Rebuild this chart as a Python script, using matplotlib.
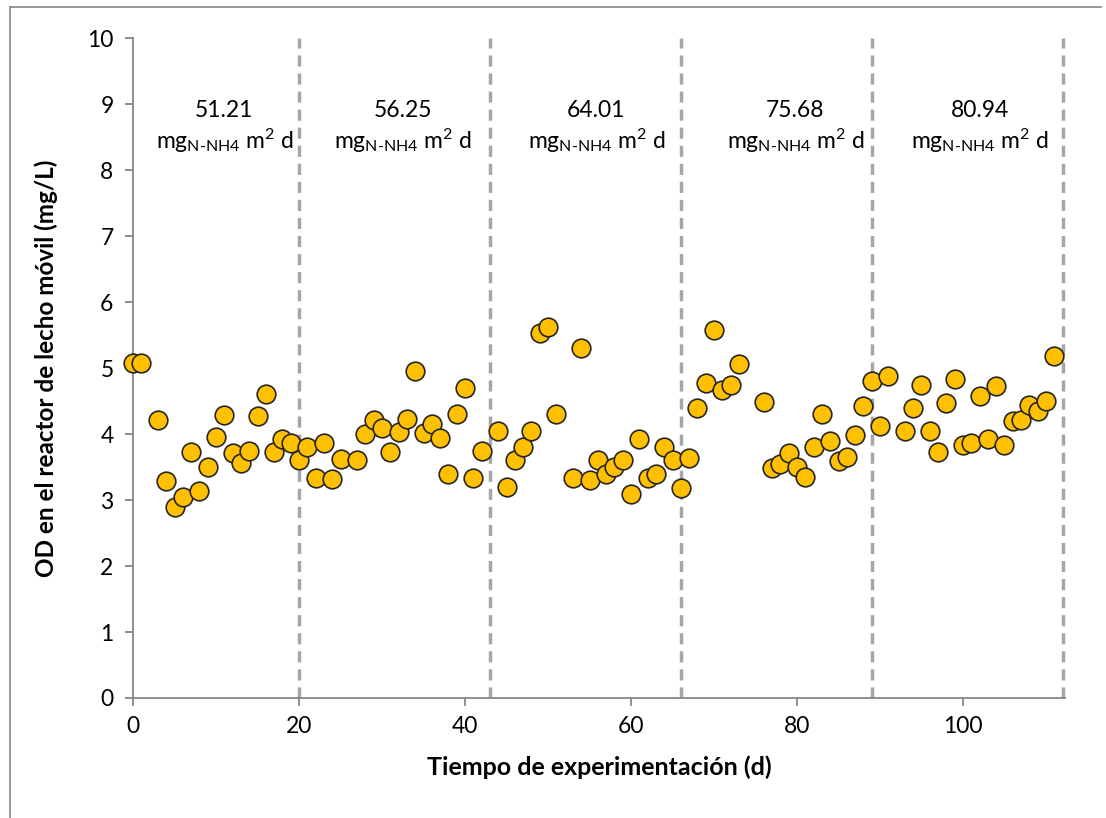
import matplotlib
matplotlib.use("Agg")
import matplotlib.pyplot as plt
from matplotlib.lines import Line2D

plt.rcParams['font.family'] = ['Lato', 'DejaVu Sans']
plt.rcParams['mathtext.fontset'] = 'custom'
plt.rcParams['mathtext.rm'] = 'Lato'
plt.rcParams['mathtext.it'] = 'Lato'

# dias de experimentacion y oxigeno disuelto (mg/L)
dias = [0, 1, 3, 4, 5, 6, 7, 8, 9, 10, 11, 12, 13, 14, 15, 16, 17, 18, 19, 20,
        21, 22, 23, 24, 25, 27, 28, 29, 30, 31, 32, 33, 34, 35, 36, 37, 38, 39, 40,
        41, 42, 44, 45, 46, 47, 48, 49, 50, 51, 53, 54, 55, 56, 57, 58, 59, 60,
        61, 62, 63, 64, 65, 66, 67, 68, 69, 70, 71, 72, 73, 76, 77, 78, 79, 80,
        81, 82, 83, 84, 85, 86, 87, 88, 89, 90, 91, 93, 94, 95, 96, 97, 98, 99,
        100, 101, 102, 103, 104, 105, 106, 107, 108, 109, 110, 111]
od = [5.07, 5.08, 4.21, 3.29, 2.90, 3.04, 3.73, 3.14, 3.50, 3.95, 4.29, 3.71, 3.56,
      3.75, 4.28, 4.60, 3.73, 3.93, 3.87, 3.61,
      3.81, 3.33, 3.86, 3.32, 3.62, 3.60, 4.00, 4.21, 4.09, 3.72, 4.03, 4.22, 4.95,
      4.02, 4.15, 3.94, 3.39, 4.30, 4.70,
      3.34, 3.75, 4.05, 3.20, 3.60, 3.80, 4.05, 5.53, 5.62, 4.30, 3.33, 5.30, 3.30,
      3.60, 3.40, 3.50, 3.60, 3.09,
      3.92, 3.33, 3.39, 3.81, 3.60, 3.18, 3.63, 4.40, 4.78, 5.58, 4.66, 4.75, 5.06,
      4.48, 3.48, 3.54, 3.71, 3.50,
      3.35, 3.81, 4.30, 3.90, 3.59, 3.65, 3.98, 4.42, 4.80, 4.12, 4.88, 4.04, 4.40,
      4.75, 4.04, 3.73, 4.47, 4.83,
      3.84, 3.86, 4.57, 3.92, 4.72, 3.84, 4.20, 4.21, 4.44, 4.35, 4.50, 5.18]

# cambios de carga y etiquetas
cortes = [20, 43, 66, 89, 112]
cargas = ['51.21', '56.25', '64.01', '75.68', '80.94']
x_cargas = [11, 32.5, 55.8, 79.8, 102]

fig = plt.figure(figsize=(11.06, 8.18), dpi=100)
ax = fig.add_axes([0.1203, 0.1467, 0.8427, 0.8068])

for c in cortes:
    ax.plot([c, c], [0, 10], color='#A6A6A6', lw=2.5, ls=(0, (3.2, 2.0)), zorder=1,
            clip_on=False)

ax.scatter(dias, od, s=180, c='#FFC000', edgecolors='#262626', linewidths=1.2,
           zorder=3, clip_on=False)

for xc, lab in zip(x_cargas, cargas):
    ax.text(xc, 8.9, lab, ha='center', va='center', fontsize=16.5)
    ax.text(xc, 8.44, r'mg$_{\text{N-NH4}}$ m$^{\text{2}}$ d', ha='center',
            va='center', fontsize=16.5)

ax.set_xlim(0, 112.3)
ax.set_ylim(0, 10)
ax.set_xticks([0, 20, 40, 60, 80, 100])
ax.set_yticks(range(0, 11))

for s in ['top', 'right']:
    ax.spines[s].set_visible(False)
for s in ['left', 'bottom']:
    ax.spines[s].set_color('#868686')
    ax.spines[s].set_linewidth(1.3)
ax.tick_params(axis='both', direction='out', length=6, width=1.3, color='#868686',
               labelsize=16.5, labelcolor='black')
ax.tick_params(axis='x', pad=7)
ax.tick_params(axis='y', pad=8)

ax.set_xlabel('Tiempo de experimentación (d)', fontsize=18, fontweight='bold',
              labelpad=13)
ax.set_ylabel('OD en el reactor de lecho móvil (mg/L)', fontsize=17.5,
              fontweight='bold', labelpad=21)

# marco exterior del grafico
fig.add_artist(Line2D([10 / 1106, 10 / 1106], [0, 1 - 7 / 818], color='#868686',
                      lw=1.2, transform=fig.transFigure))
fig.add_artist(Line2D([10 / 1106, 1101 / 1106], [1 - 7 / 818, 1 - 7 / 818],
                      color='#868686', lw=1.2, transform=fig.transFigure))

fig.savefig('out.png', dpi=100)
